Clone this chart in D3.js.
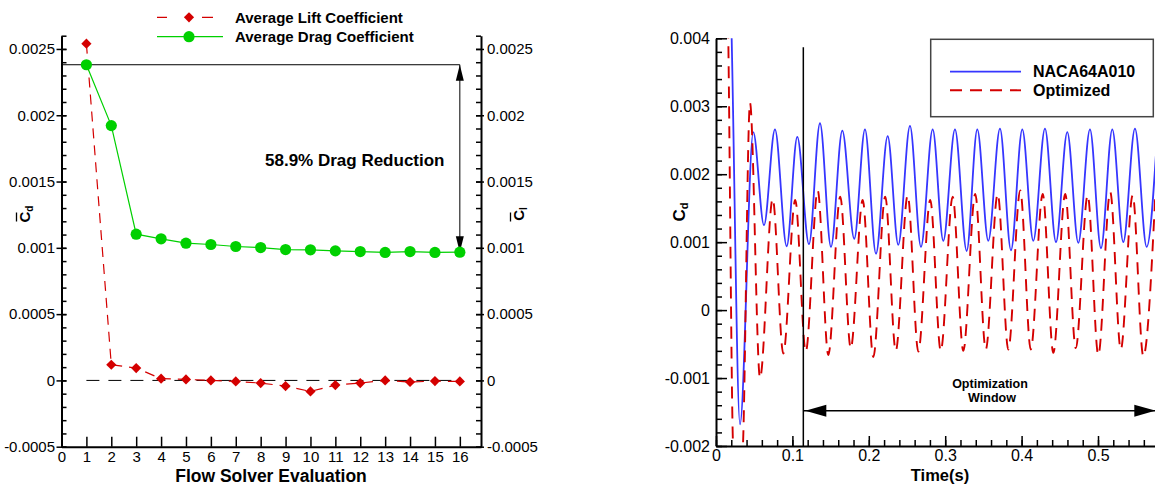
<!DOCTYPE html>
<html>
<head>
<meta charset="utf-8">
<script src="https://cdn.jsdelivr.net/npm/d3@7"></script>
<style>
  body { margin: 0; background: #fff; }
  svg { display: block; font-family: "Liberation Sans", Arial, Helvetica, sans-serif; }
  .tick line { stroke: #000; stroke-width: 1.5; }
  .tick text { fill: #000; }
  .domain { stroke: #000; stroke-width: 2; }
</style>
</head>
<body>
<svg id="chart" width="1155" height="485"></svg>
<script>
/* ---- left panel data: optimisation history ---- */
var evaluations = [1, 2, 3, 4, 5, 6, 7, 8, 9, 10, 11, 12, 13, 14, 15, 16];
var avgDrag = [0.002381, 0.001922, 0.001103, 0.001068, 0.001035, 0.001025, 0.001010, 0.001002,
               0.000987, 0.000985, 0.000977, 0.000972, 0.000965, 0.000972, 0.000965, 0.000967];
var avgLift = [0.002540, 0.000118, 0.000093, 0.000013, 0.0000075, 0.0, -0.0000075, -0.000020,
               -0.000043, -0.000083, -0.000035, -0.000020, 0.0, -0.000012, -0.000005, -0.000008];
var evalTicks = [0, 1, 2, 3, 4, 5, 6, 7, 8, 9, 10, 11, 12, 13, 14, 15, 16];
var coefTicks = [-0.0005, 0, 0.0005, 0.001, 0.0015, 0.002, 0.0025];
var dragLabel = "58.9% Drag Reduction";

/* ---- right panel data: time history of Cd ---- */
var timeNaca = [0.0131, 0.0205, 0.0314, 0.0488, 0.0628, 0.0772, 0.0925, 0.1064, 0.1217, 0.1361,
                0.1505, 0.1653, 0.1810, 0.1950, 0.2094, 0.2247, 0.2386, 0.2539, 0.2683, 0.2836,
                0.2975, 0.3128, 0.3281, 0.3420, 0.3564, 0.3717, 0.3861, 0.4009, 0.4153, 0.4306,
                0.4450, 0.4598, 0.4742, 0.4895, 0.5039, 0.5187, 0.5331, 0.5484, 0.5637, 0.5779];
var cdNaca = [0.0075, 0.0040, -0.00168, 0.00262, 0.00125, 0.00266, 0.00094, 0.00255, 0.00097, 0.00275,
              0.00093, 0.00264, 0.00105, 0.00266, 0.00083, 0.00256, 0.00096, 0.00271, 0.00093, 0.00266,
              0.00102, 0.00266, 0.00087, 0.00266, 0.00102, 0.00267, 0.00088, 0.00266, 0.00102, 0.00267,
              0.00100, 0.00262, 0.00099, 0.00266, 0.00091, 0.00266, 0.00100, 0.00267, 0.00093, 0.00266];
var timeOpt = [0.0105, 0.0161, 0.0223, 0.0288, 0.0353, 0.0445, 0.0576, 0.0742, 0.0881, 0.1037,
               0.1175, 0.1331, 0.1470, 0.1626, 0.1764, 0.1920, 0.2059, 0.2215, 0.2353, 0.2509,
               0.2648, 0.2804, 0.2942, 0.3098, 0.3237, 0.3393, 0.3531, 0.3687, 0.3826, 0.3982,
               0.4120, 0.4276, 0.4415, 0.4571, 0.4709, 0.4865, 0.5004, 0.5160, 0.5298, 0.5454,
               0.5593, 0.5749];
var cdOpt = [0.0080, 0.0040, -0.0020, -0.0030, -0.0020, 0.00305, -0.0010, 0.00164, -0.00064, 0.00162,
             -0.00061, 0.00176, -0.00066, 0.00167, -0.00056, 0.00162, -0.00069, 0.00167, -0.00060, 0.00169,
             -0.00061, 0.00162, -0.00060, 0.00167, -0.00060, 0.00171, -0.00058, 0.00171, -0.00058, 0.00176,
             -0.00058, 0.00171, -0.00063, 0.00171, -0.00056, 0.00169, -0.00066, 0.00174, -0.00058, 0.00169,
             -0.00068, 0.00167];
var timeTicks = [0, 0.1, 0.2, 0.3, 0.4, 0.5];
var cdTicks = [-0.002, -0.001, 0, 0.001, 0.002, 0.003, 0.004];
var seriesNames = ["NACA64A010", "Optimized"];
var windowStart = 0.1143;   // start of the optimization window (s)
var windowArrowCd = -0.00148;

var red = "#d40000", green = "#00d000", blue = "#3636ff";

var svg = d3.select("#chart");

/* reset the attributes that d3.axis puts on its group */
function styleAxis(g, size) {
  g.attr("font-size", size).attr("font-family", null);
}

/* =================== LEFT PANEL =================== */
var xL = d3.scaleLinear().domain([0, 16.85]).range([61.5, 481]);
var yL = d3.scaleLinear().domain([-0.0005, 0.0026]).range([446.7, 35.7]);
var minorL = d3.range(-5, 27).map(function(i) { return i / 10000; });

var left = svg.append("g");

/* left axis: minor ticks inward, major ticks crossing */
left.append("g")
  .attr("transform", "translate(" + xL(0) + ",0)")
  .call(d3.axisLeft(yL).tickValues(minorL).tickSize(-5).tickFormat(""))
  .call(function(g) { g.select(".domain").remove(); });
left.append("g")
  .attr("transform", "translate(" + xL(0) + ",0)")
  .call(d3.axisLeft(yL).tickValues(coefTicks).tickSizeInner(5).tickSizeOuter(0).tickPadding(1.5).tickFormat(String))
  .call(styleAxis, 15)
  .call(function(g) { g.selectAll(".tick line").attr("x1", 5); });

/* right axis */
left.append("g")
  .attr("transform", "translate(481,0)")
  .call(d3.axisRight(yL).tickValues(minorL).tickSize(-5).tickFormat(""))
  .call(function(g) { g.select(".domain").remove(); });
left.append("g")
  .attr("transform", "translate(481,0)")
  .call(d3.axisRight(yL).tickValues(coefTicks).tickSizeInner(3).tickSizeOuter(0).tickPadding(3).tickFormat(String))
  .call(styleAxis, 15)
  .call(function(g) { g.selectAll(".tick line").attr("x1", -5); });

/* bottom axis */
left.append("g")
  .attr("transform", "translate(0," + yL(-0.0005) + ")")
  .call(d3.axisBottom(xL).tickValues(evalTicks).tickSize(-10).tickSizeOuter(0).tickPadding(5))
  .call(styleAxis, 15);

/* axis titles */
left.append("text")
  .attr("x", 271).attr("y", 481.5)
  .attr("text-anchor", "middle")
  .attr("font-size", 17.5).attr("font-weight", "bold")
  .text("Flow Solver Evaluation");

function barTitle(x, y, sub) {
  var g = svg.append("g").attr("transform", "translate(" + x + "," + y + ") rotate(-90)");
  var t = g.append("text").attr("text-anchor", "middle").attr("font-weight", "bold");
  t.append("tspan").attr("font-size", 15).text("C");
  t.append("tspan").attr("font-size", 10).attr("dy", 3).text(sub);
  g.append("line")
    .attr("x1", -7.5).attr("x2", 1.5).attr("y1", -13.5).attr("y2", -13.5)
    .attr("stroke", "#000").attr("stroke-width", 1.3);
}
barTitle(30, 214, "d");
barTitle(524, 214, "l");

/* zero reference line */
left.append("line")
  .attr("x1", xL(1)).attr("x2", xL(16))
  .attr("y1", yL(0)).attr("y2", yL(0))
  .attr("stroke", "#000").attr("stroke-width", 1)
  .attr("stroke-dasharray", "13,9");

/* series lines */
var lineL = d3.line()
  .x(function(d, i) { return xL(evaluations[i]); })
  .y(function(d) { return yL(d); });

left.append("path").datum(avgLift)
  .attr("d", lineL)
  .attr("fill", "none").attr("stroke", red).attr("stroke-width", 1.2)
  .attr("stroke-dasharray", "10,7");
left.append("path").datum(avgDrag)
  .attr("d", lineL)
  .attr("fill", "none").attr("stroke", green).attr("stroke-width", 1.2);

/* drag reduction annotation */
var topY = yL(avgDrag[0]), botY = yL(avgDrag[avgDrag.length - 1]), arrX = xL(16);
left.append("line")
  .attr("x1", xL(0)).attr("x2", arrX).attr("y1", topY).attr("y2", topY)
  .attr("stroke", "#000").attr("stroke-width", 1);
left.append("line")
  .attr("x1", arrX).attr("x2", arrX).attr("y1", topY).attr("y2", botY)
  .attr("stroke", "#000").attr("stroke-width", 1);
left.append("path")
  .attr("d", "M" + arrX + "," + topY + "L" + (arrX - 4) + "," + (topY + 16) + "L" + (arrX + 4) + "," + (topY + 16) + "Z")
  .attr("fill", "#000");
left.append("path")
  .attr("d", "M" + arrX + "," + botY + "L" + (arrX - 4) + "," + (botY - 16) + "L" + (arrX + 4) + "," + (botY - 16) + "Z")
  .attr("fill", "#000");
left.append("text")
  .attr("x", 265).attr("y", 166)
  .attr("font-size", 17).attr("font-weight", "bold")
  .text(dragLabel);

/* markers */
var diamond = d3.symbol().type(d3.symbolSquare).size(52);
left.selectAll(".lift").data(avgLift).enter().append("path")
  .attr("class", "lift")
  .attr("d", diamond)
  .attr("transform", function(d, i) { return "translate(" + xL(evaluations[i]) + "," + yL(d) + ") rotate(45)"; })
  .attr("fill", red);
left.selectAll(".drag").data(avgDrag).enter().append("circle")
  .attr("class", "drag")
  .attr("cx", function(d, i) { return xL(evaluations[i]); })
  .attr("cy", function(d) { return yL(d); })
  .attr("r", 5.6)
  .attr("fill", green);

/* legend */
var legL = svg.append("g");
legL.append("line").attr("x1", 157).attr("x2", 213).attr("y1", 17.3).attr("y2", 17.3)
  .attr("stroke", red).attr("stroke-width", 1.2).attr("stroke-dasharray", "10,35,11");
legL.append("path").attr("d", diamond).attr("transform", "translate(189,17.3) rotate(45)").attr("fill", red);
legL.append("line").attr("x1", 157).attr("x2", 223).attr("y1", 36.7).attr("y2", 36.7)
  .attr("stroke", green).attr("stroke-width", 1.2);
legL.append("circle").attr("cx", 189).attr("cy", 36.7).attr("r", 5.6).attr("fill", green);
legL.append("text").attr("x", 235).attr("y", 22.5)
  .attr("font-size", 15).attr("font-weight", "bold").text("Average Lift Coefficient");
legL.append("text").attr("x", 235).attr("y", 42)
  .attr("font-size", 15).attr("font-weight", "bold").text("Average Drag Coefficient");

/* =================== RIGHT PANEL =================== */
var xR = d3.scaleLinear().domain([0, 0.575]).range([716, 1155.3]);
var yR = d3.scaleLinear().domain([-0.002, 0.004]).range([446, 38.3]);
var minorRX = d3.range(0, 29).map(function(i) { return i / 50; });
var minorRY = d3.range(-10, 21).map(function(i) { return i / 5000; });

var right = svg.append("g");

right.append("defs").append("clipPath").attr("id", "plotR")
  .append("rect")
    .attr("x", xR(0)).attr("y", yR(0.004))
    .attr("width", 1155 - xR(0)).attr("height", yR(-0.002) - yR(0.004));

var lineR = d3.line()
  .curve(d3.curveMonotoneX)
  .x(function(d) { return xR(d[0]); })
  .y(function(d) { return yR(d[1]); });

var naca = timeNaca.map(function(t, i) { return [t, cdNaca[i]]; });
var opt = timeOpt.map(function(t, i) { return [t, cdOpt[i]]; });

var plot = right.append("g").attr("clip-path", "url(#plotR)");
plot.append("path").datum(naca)
  .attr("d", lineR)
  .attr("fill", "none").attr("stroke", blue).attr("stroke-width", 1.8);
plot.append("path").datum(opt)
  .attr("d", lineR)
  .attr("fill", "none").attr("stroke", red).attr("stroke-width", 1.9)
  .attr("stroke-dasharray", "12,8");

/* axes */
right.append("g")
  .attr("transform", "translate(" + xR(0) + ",0)")
  .call(d3.axisLeft(yR).tickValues(minorRY).tickSize(-6).tickFormat(""))
  .call(function(g) { g.select(".domain").remove(); });
right.append("g")
  .attr("transform", "translate(" + xR(0) + ",0)")
  .call(d3.axisLeft(yR).tickValues(cdTicks).tickSize(-11).tickSizeOuter(0).tickPadding(6).tickFormat(String))
  .call(styleAxis, 16);
right.append("g")
  .attr("transform", "translate(0," + yR(-0.002) + ")")
  .call(d3.axisBottom(xR).tickValues(minorRX).tickSize(-6).tickFormat(""))
  .call(function(g) { g.select(".domain").remove(); });
right.append("g")
  .attr("transform", "translate(0," + yR(-0.002) + ")")
  .call(d3.axisBottom(xR).tickValues(timeTicks).tickSize(-10).tickSizeOuter(0).tickPadding(4).tickFormat(String))
  .call(styleAxis, 16);

right.append("text")
  .attr("x", 940).attr("y", 480.5)
  .attr("text-anchor", "middle")
  .attr("font-size", 16.5).attr("font-weight", "bold")
  .text("Time(s)");
var cdTitle = right.append("text")
  .attr("transform", "translate(685,212) rotate(-90)")
  .attr("text-anchor", "middle").attr("font-weight", "bold");
cdTitle.append("tspan").attr("font-size", 17).text("C");
cdTitle.append("tspan").attr("font-size", 11).attr("dy", 3).text("d");

/* optimization window */
var wx = xR(windowStart), wy = yR(windowArrowCd), xEnd = xR.range()[1];
right.append("line")
  .attr("x1", wx).attr("x2", wx).attr("y1", yR(0.00387)).attr("y2", yR(-0.002))
  .attr("stroke", "#000").attr("stroke-width", 1.5);
right.append("line")
  .attr("x1", wx).attr("x2", xEnd).attr("y1", wy).attr("y2", wy)
  .attr("stroke", "#000").attr("stroke-width", 1.5);
right.append("path")
  .attr("d", "M" + (wx + 2) + "," + wy + "L" + (wx + 23) + "," + (wy - 6) + "L" + (wx + 23) + "," + (wy + 6) + "Z")
  .attr("fill", "#000");
right.append("path")
  .attr("d", "M" + xEnd + "," + wy + "L" + (xEnd - 21) + "," + (wy - 6) + "L" + (xEnd - 21) + "," + (wy + 6) + "Z")
  .attr("fill", "#000");
right.append("text").attr("x", 990).attr("y", 387.5)
  .attr("text-anchor", "middle").attr("font-size", 12.5).attr("font-weight", "bold").text("Optimization");
right.append("text").attr("x", 992).attr("y", 402)
  .attr("text-anchor", "middle").attr("font-size", 12.5).attr("font-weight", "bold").text("Window");

/* legend box */
var legR = right.append("g");
legR.append("rect")
  .attr("x", 930.7).attr("y", 39.3).attr("width", 222.6).attr("height", 77.4)
  .attr("fill", "#fff").attr("stroke", "#444").attr("stroke-width", 1.5);
legR.append("line").attr("x1", 950).attr("x2", 1021).attr("y1", 71.7).attr("y2", 71.7)
  .attr("stroke", blue).attr("stroke-width", 1.8);
legR.append("line").attr("x1", 950).attr("x2", 1021).attr("y1", 90.3).attr("y2", 90.3)
  .attr("stroke", red).attr("stroke-width", 1.9).attr("stroke-dasharray", "12,8");
legR.selectAll("text").data(seriesNames).enter().append("text")
  .attr("x", 1033)
  .attr("y", function(d, i) { return i === 0 ? 77 : 95.5; })
  .attr("font-size", 16).attr("font-weight", "bold")
  .text(function(d) { return d; });
</script>
</body>
</html>
